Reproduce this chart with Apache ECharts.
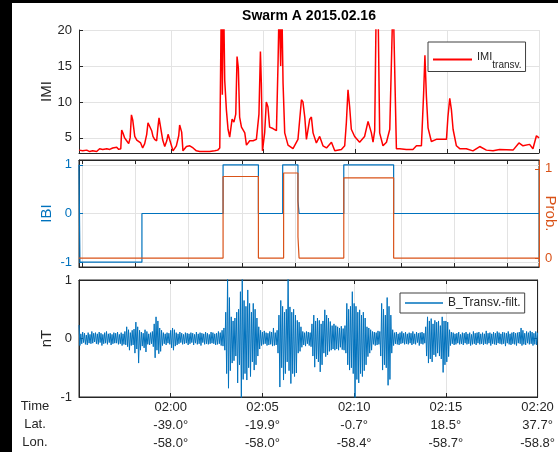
<!DOCTYPE html>
<html>
<head>
<meta charset="utf-8">
<script src="https://cdn.jsdelivr.net/npm/echarts@6/dist/echarts.min.js"></script>
<style>
  html, body { margin: 0; padding: 0; background: #000; width: 558px; height: 452px; overflow: hidden; }
  #chart { position: absolute; left: 12px; top: 3px; width: 546px; height: 449px; background: #fff; }
</style>
</head>
<body>
<div id="chart"></div>
<script>
// Time is in minutes after 01:55 UT.
const imiTime = [0.00,0.20,0.42,0.58,0.74,0.96,1.12,1.29,1.51,1.67,1.83,2.05,2.16,2.27,2.32,2.40,2.48,2.59,2.70,2.78,2.85,2.92,3.03,3.14,3.24,3.35,3.46,3.57,3.68,3.75,3.84,3.95,4.02,4.11,4.22,4.29,4.35,4.44,4.55,4.66,4.77,4.84,4.97,5.11,5.29,5.42,5.47,5.58,5.65,5.84,6.02,6.20,6.38,6.56,6.83,7.10,7.38,7.54,7.65,7.74,7.79,7.85,7.92,8.01,8.10,8.19,8.32,8.42,8.52,8.59,8.66,8.73,8.83,9.01,9.10,9.28,9.46,9.64,9.78,9.86,9.91,9.97,10.09,10.18,10.27,10.36,10.54,10.73,10.82,10.88,10.96,11.02,11.09,11.18,11.36,11.63,11.90,12.09,12.17,12.27,12.36,12.54,12.63,12.72,12.90,13.08,13.26,13.45,13.72,13.90,14.26,14.44,14.53,14.62,14.71,14.80,14.98,15.25,15.52,15.71,15.80,15.89,15.98,16.07,16.16,16.25,16.34,16.52,16.71,16.89,17.07,17.16,17.25,17.43,17.79,18.15,18.34,18.61,18.73,18.80,18.88,18.97,19.15,19.42,19.78,19.97,20.05,20.15,20.24,20.33,20.51,20.69,21.05,21.41,21.78,22.14,22.50,22.86,23.59,23.91,24.13,24.49,24.67,24.86,25.00];
const imiValue = [3.3,3.2,3.3,3.1,3.2,3.1,3.5,3.4,3.5,3.4,3.6,3.7,3.4,3.5,6.1,5.6,5.0,4.6,4.2,5.0,8.2,7.5,5.2,4.7,4.8,4.3,3.6,4.2,5.5,7.1,7.1,6.0,5.2,4.8,4.6,6.5,7.8,6.4,4.7,3.8,4.6,5.5,4.4,3.2,3.9,5.3,6.8,5.8,3.2,3.8,3.9,3.6,3.2,3.1,3.1,3.1,3.2,3.3,3.6,25,11,26,13,8.9,6.2,5.1,7.6,7.2,8.3,16.3,14.7,7.9,6.5,5.7,4.0,4.6,4.6,4.8,8.3,17.0,12.6,3.2,5.7,10.0,9.3,6.5,6.3,6.0,15.7,24,15,24,12.6,5.7,4.0,3.5,4.8,10.3,10.0,7.9,4.8,7.6,7.9,5.7,4.3,5.2,3.9,3.6,4.4,3.2,3.4,3.9,7.1,11.7,9.3,6.2,5.2,4.4,5.2,7.3,7.1,5.7,4.4,6.0,25,24,5.7,3.9,4.4,6.2,25,25,3.5,3.5,3.4,3.4,3.9,3.9,11.2,16.5,10.8,6.4,4.5,4.8,4.8,4.8,7.9,10.5,8.9,6.2,3.9,3.5,3.5,3.2,3.8,3.3,3.2,3.4,3.3,4.3,3.9,4.1,3.5,5.3,5.0];

// IBI flag and its probability, as step functions (value holds until the next time)
const ibiTime  = [0, 0.05, 3.42, 7.83, 9.75, 11.07, 11.90, 11.96, 14.39, 17.10, 25];
const ibiValue = [1, -1, 0, 1, 0, 1, 0.26, 0, 1, 0, 0];
const probTime  = [0, 7.83, 9.75, 11.12, 11.90, 11.96, 14.39, 17.10, 25];
const probValue = [0, 0.915, 0, 0.954, 0.24, 0, 0.90, 0, 0];

// Filtered transverse field, one sample every 0.05 min (one row per minute)
const bStep = 0.05;
const bValue = [
  0.23,-0.12,0.08,-0.09,0.11,-0.07,0.09,-0.10,0.06,-0.11,0.10,-0.08,0.07,-0.09,0.12,-0.08,0.09,-0.06,0.10,-0.09,
  0.08,-0.10,0.11,-0.07,0.09,-0.12,0.07,-0.09,0.10,-0.08,0.12,-0.10,0.08,-0.07,0.09,-0.11,0.07,-0.09,0.10,-0.08,
  0.09,-0.08,0.11,-0.10,0.07,-0.09,0.10,-0.12,0.08,-0.10,0.12,-0.11,0.20,-0.14,0.15,-0.20,0.10,-0.12,0.14,-0.11,
  0.16,-0.25,0.28,-0.18,0.20,-0.42,0.14,-0.20,0.11,-0.13,0.09,-0.16,0.15,-0.23,0.12,-0.10,0.08,-0.11,0.10,-0.09,
  0.12,-0.14,0.25,-0.33,0.37,-0.20,0.30,-0.26,0.18,-0.22,0.14,-0.12,0.10,-0.09,0.08,-0.11,0.10,-0.08,0.09,-0.10,
  0.14,-0.16,0.18,-0.20,0.15,-0.13,0.10,-0.11,0.08,-0.09,0.11,-0.07,0.09,-0.10,0.07,-0.09,0.10,-0.08,0.09,-0.11,
  0.08,-0.09,0.10,-0.07,0.09,-0.11,0.07,-0.08,0.11,-0.10,0.08,-0.09,0.10,-0.12,0.09,-0.07,0.08,-0.10,0.11,-0.09,
  0.09,-0.10,0.07,-0.09,0.11,-0.08,0.10,-0.09,0.08,-0.11,0.09,-0.10,0.12,-0.09,0.10,-0.12,0.14,-0.13,0.18,-0.20,
  0.45,-0.60,1.05,-0.85,0.70,-0.55,0.37,-0.42,0.30,-0.38,0.35,-0.30,0.45,-0.76,0.50,-0.45,0.80,-1.05,1.05,-0.70,
  0.65,-0.60,0.55,-0.71,0.83,-0.50,0.60,-0.65,0.45,-0.40,0.60,-0.54,0.50,-0.45,0.35,-0.30,0.20,-0.18,0.14,-0.12,
  0.11,-0.10,0.13,-0.09,0.10,-0.12,0.09,-0.11,0.12,-0.10,0.11,-0.13,0.18,-0.12,0.10,-0.11,0.14,-0.25,0.40,-0.83,
  0.65,-0.50,0.55,-0.71,0.45,-0.60,0.50,-0.40,1.05,-0.55,0.54,-0.77,0.45,-0.60,0.50,-0.65,0.40,-0.59,0.31,-0.25,
  0.28,-0.22,0.20,-0.15,0.12,-0.11,0.10,-0.13,0.12,-0.09,0.11,-0.12,0.10,-0.14,0.25,-0.30,0.40,-0.49,0.30,-0.35,
  0.35,-0.40,0.31,-0.57,0.25,-0.45,0.30,-0.25,0.49,-0.31,0.40,-0.28,0.35,-0.22,0.29,-0.20,0.22,-0.18,0.25,-0.20,
  0.22,-0.18,0.20,-0.20,0.18,-0.15,0.21,-0.19,0.17,-0.20,0.22,-0.25,0.60,-0.45,0.50,-0.54,0.55,-0.50,0.80,-0.60,
  0.60,-1.05,0.55,-0.70,0.45,-0.76,0.49,-0.60,0.40,-0.65,0.45,-0.55,0.35,-0.45,0.20,-0.31,0.18,-0.25,0.15,-0.20,
  0.12,-0.10,0.11,-0.12,0.10,-0.11,0.13,-0.10,0.12,-0.30,0.60,-0.54,0.50,-0.45,0.40,-0.50,0.70,-0.80,0.55,-0.70,
  0.40,-0.25,0.15,-0.12,0.10,-0.09,0.11,-0.10,0.08,-0.11,0.10,-0.09,0.12,-0.08,0.09,-0.10,0.11,-0.09,0.08,-0.10,
  0.10,-0.08,0.09,-0.11,0.12,-0.09,0.08,-0.10,0.11,-0.07,0.09,-0.12,0.10,-0.09,0.11,-0.10,0.09,-0.08,0.20,-0.30,
  0.37,-0.42,0.30,-0.35,0.34,-0.40,0.25,-0.28,0.31,-0.31,0.28,-0.25,0.30,-0.30,0.22,-0.35,0.37,-0.58,0.30,-0.45,
  0.30,-0.40,0.28,-0.31,0.15,-0.12,0.11,-0.09,0.10,-0.11,0.08,-0.10,0.09,-0.08,0.11,-0.10,0.07,-0.09,0.10,-0.11,
  0.09,-0.08,0.11,-0.10,0.08,-0.09,0.10,-0.12,0.07,-0.10,0.12,-0.09,0.09,-0.11,0.10,-0.08,0.11,-0.10,0.08,-0.09,
  0.10,-0.11,0.08,-0.09,0.13,-0.10,0.09,-0.08,0.10,-0.12,0.08,-0.09,0.11,-0.10,0.09,-0.11,0.12,-0.08,0.10,-0.09,
  0.08,-0.10,0.11,-0.09,0.10,-0.13,0.09,-0.08,0.12,-0.10,0.08,-0.11,0.10,-0.09,0.11,-0.10,0.09,-0.12,0.10,-0.08,
  0.11,-0.09,0.18,-0.12,0.14,-0.10,0.09,-0.11,0.12,-0.08,0.10,-0.10,0.13,-0.09,0.11,-0.12,0.09,-0.10,0.12,-0.11,
  0.10
];

// Orbit annotation under the time axis
const timeLabels = ['02:00', '02:05', '02:10', '02:15', '02:20'];
const latLabels  = ['-39.0°', '-19.9°', '-0.7°', '18.5°', '37.7°'];
const lonLabels  = ['-58.0°', '-58.0°', '-58.4°', '-58.7°', '-58.8°'];
const rowNames   = ['Time', 'Lat.', 'Lon.'];

const imiTicks  = [5, 10, 15, 20];
const ibiTicks  = [-1, 0, 1];
const probTicks = [0, 1];
const ibiXTicks = [0.15, 3.06, 5.96, 8.86, 11.76, 14.65, 17.53, 20.40, 23.28];

const FONT = "'Liberation Sans', Arial, Helvetica, sans-serif";
const INK = '#262626';
const GRIDC = '#e3e3e3';
const BLUE = '#0072BD';
const ORANGE = '#D95319';

const zip = (xs, ys) => xs.map((x, i) => [x, ys[i]]);
const bData = bValue.map((v, i) => [+(i * bStep).toFixed(3), v]);

const chart = echarts.init(document.getElementById('chart'), null, { renderer: 'canvas' });

const tick = (color) => ({ show: true, inside: true, length: 4, lineStyle: { color: color || INK } });
const line = (color) => ({ show: true, onZero: false, lineStyle: { color: color || INK, width: 1 } });
const split = { show: true, lineStyle: { color: GRIDC, width: 1 } };

const grids = [
  { left: 67, top: 27, width: 460, height: 123 },
  { left: 67, top: 157, width: 460, height: 107, show: true, borderColor: INK, borderWidth: 1 },
  { left: 67, top: 277, width: 460, height: 117, show: true, borderColor: INK, borderWidth: 1 }
];

const timeAxisBase = { type: 'value', min: 0, max: 25, interval: 5 };
const yName = (text, color) => ({
  name: text, nameLocation: 'middle', nameGap: 25, nameRotate: 90, nameMoveOverlap: false,
  nameTextStyle: { color: color, fontSize: 15, fontFamily: FONT }
});

const option = {
  animation: false,
  textStyle: { fontFamily: FONT },
  grid: grids,
  graphic: [
    { type: 'text', x: 297, y: 13, style: { text: 'Swarm A 2015.02.16', font: 'bold 14px ' + FONT, fill: '#000', textAlign: 'center', textVerticalAlign: 'middle' } },
    { type: 'text', x: 23, y: 394.5, style: { text: rowNames.join('\n'), font: '13px ' + FONT, fill: INK, textAlign: 'center', textVerticalAlign: 'top', lineHeight: 18 } },
    // right-hand axis title of the IBI panel, read top to bottom
    { type: 'text', x: 538, y: 210.5, rotation: -Math.PI / 2, style: { text: 'Prob.', font: '15px ' + FONT, fill: ORANGE, textAlign: 'center', textVerticalAlign: 'middle' } }
  ],
  xAxis: [
    Object.assign({}, timeAxisBase, { gridIndex: 0, position: 'bottom', axisLine: line(), axisTick: tick(), axisLabel: { show: false }, splitLine: split }),
    { type: 'value', min: 0, max: 25, gridIndex: 1, position: 'bottom', axisLine: line(), axisTick: Object.assign(tick(), { customValues: ibiXTicks }), axisLabel: { show: false, customValues: ibiXTicks }, splitLine: split },
    { type: 'value', min: 0, max: 25, gridIndex: 1, position: 'top', axisLine: line(), axisTick: Object.assign(tick(), { customValues: ibiXTicks }), axisLabel: { show: false, customValues: ibiXTicks }, splitLine: { show: false } },
    Object.assign({}, timeAxisBase, {
      gridIndex: 2, position: 'bottom', axisLine: line(), axisTick: tick(), splitLine: split,
      axisLabel: {
        margin: 1, color: INK, fontSize: 13, lineHeight: 18, fontFamily: FONT,
        formatter: (v) => {
          const k = Math.round(v / 5) - 1;
          if (k < 0) return '';
          return timeLabels[k] + '\n' + latLabels[k] + '\n' + lonLabels[k];
        }
      }
    }),
    Object.assign({}, timeAxisBase, { gridIndex: 2, position: 'top', axisLine: line(), axisTick: tick(), axisLabel: { show: false }, splitLine: { show: false } })
  ],
  yAxis: [
    Object.assign({ type: 'value', gridIndex: 0, min: 2.9, max: 20, position: 'left',
      axisLine: line(), axisTick: Object.assign(tick(), { customValues: imiTicks }),
      axisLabel: { customValues: imiTicks, color: INK, fontSize: 13, margin: 7, fontFamily: FONT },
      splitLine: split }, yName('IMI', INK)),
    Object.assign({ type: 'value', gridIndex: 1, min: -1.1, max: 1.1, position: 'left',
      axisLine: line(), axisTick: Object.assign(tick(BLUE), { customValues: ibiTicks }),
      axisLabel: { customValues: ibiTicks, color: BLUE, fontSize: 13, margin: 7, fontFamily: FONT },
      splitLine: split }, yName('IBI', BLUE)),
    { type: 'value', gridIndex: 1, min: -0.1, max: 1.1, position: 'right',
      axisLine: line(ORANGE), axisTick: Object.assign(tick(ORANGE), { customValues: probTicks }),
      axisLabel: { customValues: probTicks, color: ORANGE, fontSize: 13, margin: 6, fontFamily: FONT },
      splitLine: { show: false } },
    Object.assign({ type: 'value', gridIndex: 2, min: -1, max: 1, interval: 1, position: 'left',
      axisLine: line(), axisTick: tick(),
      axisLabel: { color: INK, fontSize: 13, margin: 7, fontFamily: FONT },
      splitLine: { show: false } }, yName('nT', INK)),
    { type: 'value', gridIndex: 2, min: -1, max: 1, interval: 1, position: 'right',
      axisLine: line(), axisTick: tick(), axisLabel: { show: false }, splitLine: { show: false } }
  ],
  legend: [
    { data: ['IMI_transv'], left: 416, top: 39, padding: [9.5, 4, 1, 5], itemWidth: 39, itemHeight: 2, icon: 'rect',
      backgroundColor: '#fff', borderColor: '#404040', borderWidth: 1, borderRadius: 0,
      formatter: () => '{a|IMI}{b|transv.}',
      textStyle: { fontFamily: FONT, color: INK,
        rich: { a: { fontSize: 11, fontFamily: FONT, color: INK, verticalAlign: 'top', padding: [3, 0, 6, 0] },
                b: { fontSize: 10, fontFamily: FONT, color: INK, verticalAlign: 'bottom', padding: [12, 0, 0, 0] } } } },
    { data: ['B_Transv.-filt.'], left: 388, top: 290, padding: [4, 4, 4, 5], itemWidth: 38, itemHeight: 1.5, icon: 'rect',
      backgroundColor: '#fff', borderColor: '#404040', borderWidth: 1, borderRadius: 0,
      textStyle: { fontFamily: FONT, color: INK, fontSize: 12 } }
  ],
  series: [
    { name: 'IMI_transv', type: 'line', xAxisIndex: 0, yAxisIndex: 0, data: zip(imiTime, imiValue),
      symbol: 'none', clip: true, color: '#ff0000', lineStyle: { color: '#ff0000', width: 1.5 } },
    { name: 'IBI', type: 'line', xAxisIndex: 1, yAxisIndex: 1, data: zip(ibiTime, ibiValue), step: 'end',
      symbol: 'none', clip: true, color: BLUE, lineStyle: { color: BLUE, width: 1.2 } },
    { name: 'Prob', type: 'line', xAxisIndex: 1, yAxisIndex: 2, data: zip(probTime, probValue), step: 'end',
      symbol: 'none', clip: true, color: ORANGE, lineStyle: { color: ORANGE, width: 1.2 } },
    { name: 'B_Transv.-filt.', type: 'line', xAxisIndex: 3, yAxisIndex: 3, data: bData,
      symbol: 'none', clip: true, color: BLUE, lineStyle: { color: BLUE, width: 1 } }
  ]
};

chart.setOption(option);
</script>
</body>
</html>
